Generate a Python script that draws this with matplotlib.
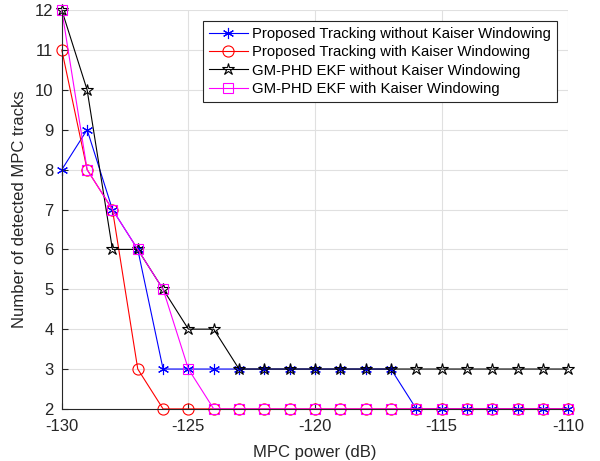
"""
Detected MPC tracks vs MPC power for the four tracking variants.
"""

import numpy as np
import matplotlib
matplotlib.use("Agg")
import matplotlib.pyplot as plt

plt.rcParams['font.family'] = ['Liberation Sans', 'DejaVu Sans']
plt.rcParams['axes.unicode_minus'] = False

# data
mpc_power = np.arange(-130, -109, 1)
proposed_no_kaiser = [8, 9, 7, 6, 3, 3, 3, 3, 3, 3, 3, 3, 3, 3, 2, 2, 2, 2, 2, 2, 2]
proposed_kaiser = [11, 8, 7, 3, 2, 2, 2, 2, 2, 2, 2, 2, 2, 2, 2, 2, 2, 2, 2, 2, 2]
gmphd_no_kaiser = [12, 10, 6, 6, 5, 4, 4, 3, 3, 3, 3, 3, 3, 3, 3, 3, 3, 3, 3, 3, 3]
gmphd_kaiser = [12, 8, 7, 6, 5, 3, 2, 2, 2, 2, 2, 2, 2, 2, 2, 2, 2, 2, 2, 2, 2]

labels = [
    'Proposed Tracking without Kaiser Windowing',
    'Proposed Tracking with Kaiser Windowing',
    'GM-PHD EKF without Kaiser Windowing',
    'GM-PHD EKF with Kaiser Windowing',
]

fig = plt.figure(figsize=(6.0, 4.61), dpi=100)
ax = fig.add_axes([0.103, 0.113, 0.844, 0.865])

dark = '#262626'
lw = 0.8

ax.plot(mpc_power, proposed_no_kaiser, color='blue', linewidth=lw, clip_on=False,
        marker=(6, 2, 0), markersize=8, markeredgewidth=0.8, label=labels[0])
ax.plot(mpc_power, proposed_kaiser, color='red', linewidth=lw, clip_on=False,
        marker='o', markersize=8, markerfacecolor='none', markeredgewidth=0.8, label=labels[1])
ax.plot(mpc_power, gmphd_no_kaiser, color='black', linewidth=lw, clip_on=False,
        marker='*', markersize=9, markerfacecolor='none', markeredgewidth=0.8, label=labels[2])
ax.plot(mpc_power, gmphd_kaiser, color='magenta', linewidth=lw, clip_on=False,
        marker='s', markersize=7.5, markerfacecolor='none', markeredgewidth=0.8, label=labels[3])

ax.set_xlim(-130, -110)
ax.set_ylim(2, 12)
ax.set_xticks(np.arange(-130, -109, 5))
ax.set_yticks(np.arange(2, 13, 1))
ax.grid(True, color='#e0e0e0', linewidth=0.8)
ax.set_axisbelow(True)

for side in ['top', 'right']:
    ax.spines[side].set_visible(False)
for side in ['left', 'bottom']:
    ax.spines[side].set_color(dark)
    ax.spines[side].set_linewidth(0.8)

ax.tick_params(direction='in', length=4, width=0.8, colors=dark, labelsize=12)
ax.tick_params(axis='x', pad=7)
ax.tick_params(axis='y', pad=6)
ax.set_xlabel('MPC power (dB)', fontsize=12, color=dark, labelpad=8)
ax.set_ylabel('Number of detected MPC tracks', fontsize=12, color=dark, labelpad=6)

leg = ax.legend(loc='upper right', bbox_to_anchor=(0.978, 0.972), borderaxespad=0,
                fontsize=10.7, fancybox=False, framealpha=1, edgecolor=dark,
                handlelength=2.6, borderpad=0.4, labelspacing=0.28, handletextpad=0.3)
leg.get_frame().set_linewidth(0.8)

plt.savefig('out.png', dpi=100)
plt.close()
